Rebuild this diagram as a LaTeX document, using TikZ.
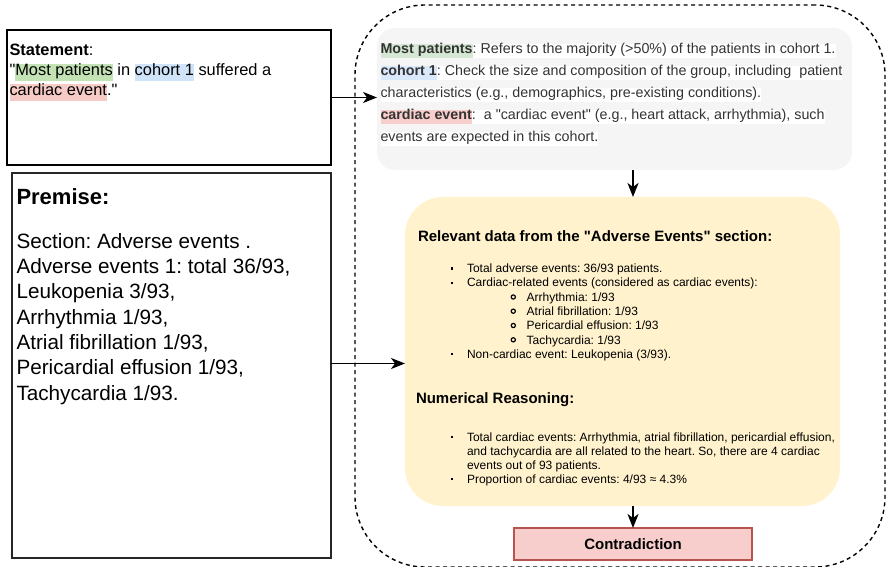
\documentclass[tikz,border=0pt]{standalone}
\usepackage{fontspec}
\setmainfont{Liberation Sans}[Ligatures=TeXOff]
\usetikzlibrary{arrows.meta}
\definecolor{graybg}{HTML}{F5F5F5}
\definecolor{yellowbg}{HTML}{FFF2CC}
\definecolor{conbg}{HTML}{F8CECC}
\definecolor{conline}{HTML}{B85450}
\definecolor{sgreen}{HTML}{C4E3B5}
\definecolor{sblue}{HTML}{CFE4F9}
\definecolor{sred}{HTML}{F6CBC6}
\definecolor{ggreen}{HTML}{D5E8D4}
\definecolor{gblue}{HTML}{DAE8FC}
\definecolor{gred}{HTML}{F8CECC}
\definecolor{gtext}{HTML}{333333}
\lineskiplimit=-100pt
\frenchspacing
\newcommand\qq{\symbol{34}}
\newcommand\hlS[2]{\begingroup\setlength\fboxsep{0pt}\colorbox{#1}{\rule[-5pt]{0pt}{15pt}#2}\endgroup}
\newcommand\hlG[2]{\begingroup\setlength\fboxsep{0pt}\colorbox{#1}{\rule[-4.5pt]{0pt}{14.5pt}#2}\endgroup}
\tikzset{
  plainbox/.style={draw=black, line width=1.5pt, fill=white, rectangle, anchor=north west, inner sep=0pt, outer sep=0pt},
  grpbox/.style={draw=black, line width=1.4pt, dash pattern=on 4pt off 3.5pt, rectangle, rounded corners=70pt, anchor=north west, inner sep=0pt, outer sep=0pt},
  graybox/.style={fill=graybg, rectangle, rounded corners=18pt, anchor=north west, inner sep=0pt, outer sep=0pt},
  yelbox/.style={fill=yellowbg, rectangle, rounded corners=38pt, anchor=north west, inner sep=0pt, outer sep=0pt},
  conbox/.style={fill=conbg, draw=conline, line width=1.4pt, rectangle, anchor=north west, inner sep=0pt, outer sep=0pt},
  txt/.style={anchor=north west, inner sep=0pt, outer sep=0pt, align=left},
  arr/.style={line width=1.6pt, -{Stealth[length=14pt, width=11pt, inset=4pt]}},
  sqbul/.style={fill=black},
  ringbul/.style={draw=black, line width=1.2pt}
}
\begin{document}
\begin{tikzpicture}[x=1pt, y=-1pt]
\useasboundingbox (0,0) rectangle (887,567);
% group region
\node[grpbox, minimum width=530pt, minimum height=562pt] (grp) at (355,5) {};
% boxes
\node[plainbox, minimum width=324pt, minimum height=135pt] (st) at (7,30) {};
\node[plainbox, line width=1.3pt, draw=black!85, minimum width=319pt, minimum height=385pt] (pr) at (12,173) {};
\node[graybox, minimum width=475pt, minimum height=142pt] (gray) at (377,28) {};
\node[yelbox, minimum width=435pt, minimum height=309pt] (yel) at (405,197) {};
\node[conbox, minimum width=238pt, minimum height=32pt] (con) at (514,528) {};
% statement text
\node[txt, font=\fontsize{16.4}{20}\selectfont] (sttext) at (9.5,36) {\rule{0pt}{20pt}\textbf{Statement}:\\
\qq\hlS{sgreen}{Most patients} in \hlS{sblue}{cohort 1} suffered a\\
\hlS{sred}{cardiac event}.\qq};
% premise text
\node[txt, font=\fontsize{20.7}{25.3}\selectfont] (prtext) at (16.5,179) {\rule{0pt}{25pt}{\fontsize{22}{25.3}\selectfont\bfseries Premise:}\\[19pt]
Section: Adverse events .\\
Adverse events 1: total 36/93,\\
Leukopenia 3/93,\\
Arrhythmia 1/93,\\
Atrial fibrillation 1/93,\\
Pericardial effusion 1/93,\\
Tachycardia 1/93.};
% gray box text
\node[txt, text=gtext, font=\fontsize{14.3}{22}\selectfont] (graytext) at (380.5,32) {\rule{0pt}{22pt}\hlG{ggreen}{\textbf{Most patients}}\hlG{white}{: Refers to the majority (>50\%) of the patients in cohort 1.}\\
\hlG{gblue}{\textbf{cohort 1}}\hlG{white}{: Check the size and composition of the group, including\ \ patient}\\
\hlG{white}{characteristics (e.g., demographics, pre-existing conditions).}\\
\hlG{gred}{\textbf{cardiac event}}\hlG{white}{:\ \ a \qq cardiac event\qq{} (e.g., heart attack, arrhythmia), such}\\
\hlG{white}{events are expected in this cohort.}};
% yellow box text
\node[txt, font=\fontsize{15}{18}\selectfont\bfseries] (head1) at (418,221) {\rule{0pt}{20pt}Relevant data from the \qq Adverse Events\qq{} section:};
\node[txt, font=\fontsize{12}{14.28}\selectfont] (list1) at (467,256.7) {\rule{0pt}{16pt}Total adverse events: 36/93 patients.\\
Cardiac-related events (considered as cardiac events):\\
\hspace*{59.7pt}Arrhythmia: 1/93\\
\hspace*{59.7pt}Atrial fibrillation: 1/93\\
\hspace*{59.7pt}Pericardial effusion: 1/93\\
\hspace*{59.7pt}Tachycardia: 1/93\\
Non-cardiac event: Leukopenia (3/93).};
\node[txt, font=\fontsize{15}{18}\selectfont\bfseries] (head2) at (416,383.3) {\rule{0pt}{20pt}Numerical Reasoning:};
\node[txt, font=\fontsize{12}{14.1}\selectfont] (list2) at (467,425) {\rule{0pt}{16pt}Total cardiac events: Arrhythmia, atrial fibrillation, pericardial effusion,\\
and tachycardia are all related to the heart. So, there are 4 cardiac\\
events out of 93 patients.\\
Proportion of cardiac events: 4/93 ≈ 4.3\%};
% bullets
\foreach \yy in {272.7, 287.0, 358.4, 441, 483.3}
  \fill[sqbul] (450.5,\yy-5.5) rectangle (452.9,\yy-3.1);
\foreach \yy in {301.3, 315.5, 329.8, 344.1}
  \draw[ringbul] (513.3,\yy-4.3) circle (2.1pt);
% contradiction label
\node[inner sep=0pt, font=\fontsize{15}{18}\selectfont\bfseries] (context) at (con.center) {Contradiction};
% connectors
\draw[arr] (st.east) -- (st.east -| gray.west);
\draw[arr] (pr.east) ++(0,-2) coordinate (prout) -- (prout -| yel.west);
\draw[arr] (gray.south -| con.north) -- (yel.north -| con.north);
\draw[arr] (yel.south -| con.north) -- (con.north);
\end{tikzpicture}
\end{document}
